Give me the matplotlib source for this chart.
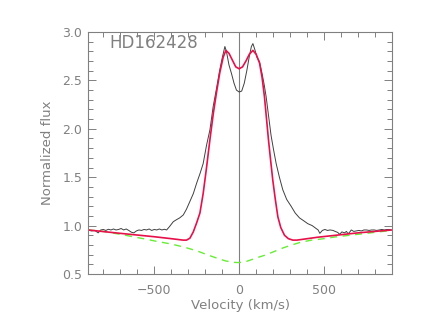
import matplotlib
matplotlib.use('Agg')
import matplotlib.pyplot as plt
from matplotlib.ticker import MultipleLocator

obs_v = [-890, -870, -850, -830, -815, -800, -785, -770, -755, -740, -725, -710,
         -695, -680, -665, -650, -635, -620, -605, -590, -575, -560, -545, -530,
         -515, -500, -485, -470, -455, -440, -427, -410, -388, -370, -350, -329,
         -310, -290, -270, -250, -230, -212, -192, -172, -153, -133, -114, -100,
         -84, -75, -60, -45, -30, -16, 0, 15, 30, 45, 60, 72, 81, 92, 105, 120,
         135, 148, 159, 172, 188, 203, 218, 237, 257, 280, 306, 330, 355, 380,
         404, 430, 453, 465, 475, 490, 505, 520, 535, 553, 565, 580, 592, 605,
         620, 632, 641, 652, 660, 675, 690, 705, 720, 735, 750, 765, 780, 795,
         810, 825, 840, 855, 870, 890]
obs_f = [0.955, 0.945, 0.95, 0.925, 0.955, 0.96, 0.95, 0.962, 0.955, 0.965, 0.955, 0.96,
         0.97, 0.955, 0.965, 0.95, 0.932, 0.925, 0.945, 0.955, 0.95, 0.96, 0.955, 0.965,
         0.95, 0.96, 0.955, 0.965, 0.955, 0.962, 0.955, 0.99, 1.04, 1.06, 1.08, 1.11,
         1.17, 1.25, 1.33, 1.44, 1.54, 1.64, 1.83, 1.99, 2.23, 2.42, 2.61, 2.73,
         2.85, 2.80, 2.66, 2.57, 2.47, 2.40, 2.38, 2.39, 2.47, 2.60, 2.75, 2.85, 2.88, 2.82, 2.74, 2.69,
         2.57, 2.45, 2.33, 2.15, 1.93, 1.78, 1.64, 1.50, 1.37, 1.27, 1.20, 1.13, 1.08, 1.05,
         1.02, 1.00, 0.97, 0.955, 0.92, 0.95, 0.96, 0.95, 0.955, 0.95, 0.94, 0.93, 0.91, 0.935,
         0.925, 0.94, 0.915, 0.935, 0.955, 0.94, 0.945, 0.95, 0.945, 0.955, 0.955, 0.95, 0.955, 0.955,
         0.95, 0.955, 0.96, 0.955, 0.96, 0.96]

# model fit (red)
fit_v = [-890, -700, -500, -400, -330, -310, -290, -270, -250, -231, -212, -192,
         -172, -152, -133, -114, -94, -78, -60, -40, -20, 0, 20, 40, 60, 81, 100,
         120, 135, 149, 165, 173, 185, 198, 213, 228, 245, 267, 290, 316, 340, 463,
         700, 900]
fit_f = [0.955, 0.92, 0.885, 0.865, 0.85, 0.85, 0.87, 0.935, 1.03, 1.13, 1.33, 1.60,
         1.89, 2.16, 2.38, 2.58, 2.74, 2.81, 2.78, 2.71, 2.64, 2.62, 2.64, 2.70, 2.77, 2.81, 2.77,
         2.68, 2.53, 2.33, 2.03, 1.88, 1.68, 1.47, 1.27, 1.09, 0.98, 0.90, 0.865, 0.85, 0.85, 0.88,
         0.925, 0.955]

# underlying component (green dashed)
comp_v = [-890, -800, -700, -624, -550, -480, -400, -319, -250, -190, -133, -80,
          -30, 0, 40, 100, 161, 210, 259, 310, 357, 420, 500, 553, 650, 749, 820, 900]
comp_f = [0.955, 0.94, 0.91, 0.885, 0.86, 0.835, 0.81, 0.775, 0.74, 0.70, 0.665, 0.635,
          0.62, 0.618, 0.628, 0.665, 0.70, 0.735, 0.77, 0.80, 0.825, 0.848, 0.865, 0.88,
          0.90, 0.92, 0.935, 0.95]

axis_col = '#808080'

fig = plt.figure(figsize=(4.36, 3.12), dpi=100)
ax = fig.add_axes([88 / 436, 1 - 274 / 312, 304 / 436, 242 / 312])

ax.axvline(0, color=axis_col, lw=0.8)
ax.plot(obs_v, obs_f, color='#404040', lw=0.7)
ax.plot(comp_v, comp_f, color='#66ee33', lw=1.0, ls=(0, (5, 4)))
ax.plot(fit_v, fit_f, color='#e8104a', lw=1.2)

ax.set_xlim(-890, 900)
ax.set_ylim(0.5, 3.0)
ax.xaxis.set_major_locator(MultipleLocator(500))
ax.xaxis.set_minor_locator(MultipleLocator(100))
ax.yaxis.set_major_locator(MultipleLocator(0.5))
ax.yaxis.set_minor_locator(MultipleLocator(0.1))
ax.yaxis.set_major_formatter(matplotlib.ticker.FormatStrFormatter('%.1f'))

for s in ax.spines.values():
    s.set_color(axis_col)
    s.set_linewidth(0.8)
ax.tick_params(which='both', direction='in', top=True, right=True,
               color=axis_col, labelcolor=axis_col, labelsize=9, width=0.7)
ax.tick_params(which='major', length=6)
ax.tick_params(which='minor', length=3.5)
ax.tick_params(axis='x', pad=7)
ax.tick_params(axis='y', pad=4)

ax.set_xlabel('Velocity (km/s)', color=axis_col, fontsize=9.5, labelpad=2)
ax.set_ylabel('Normalized flux', color=axis_col, fontsize=9.5, labelpad=6)
ax.text(0.069, 0.955, 'HD162428', transform=ax.transAxes, color=axis_col,
        fontsize=12, va='center', ha='left')

fig.savefig('out.png', dpi=100)
